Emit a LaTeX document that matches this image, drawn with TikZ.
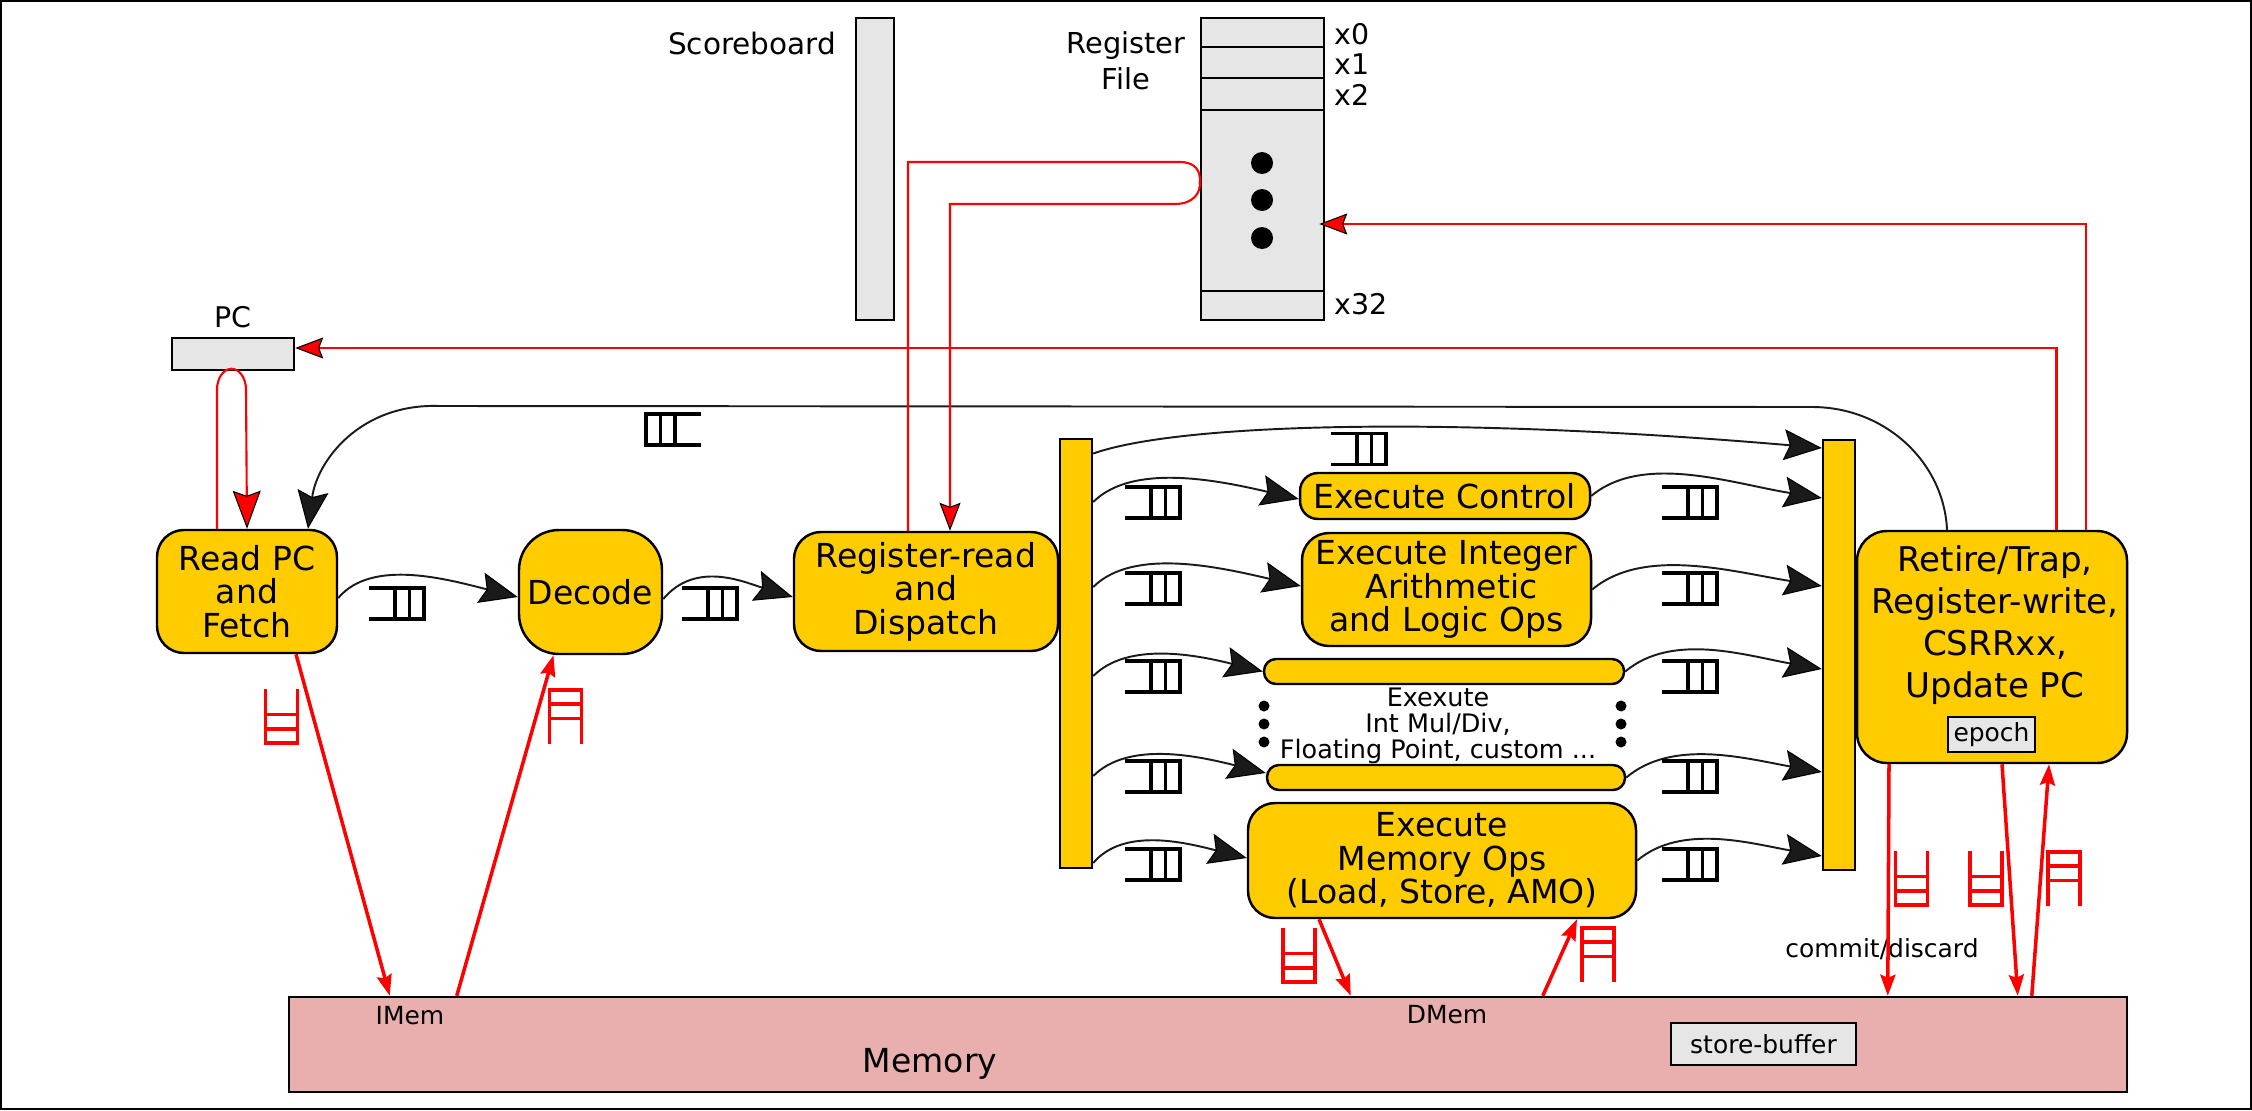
\documentclass[tikz,border=0pt]{standalone}
\usepackage{fontspec}
\setmainfont{DejaVu Sans}
\usepackage{tikz}
\usetikzlibrary{arrows.meta}
\usetikzlibrary{calc}
\definecolor{MyYellow}{HTML}{FFCC00}
\definecolor{MyGrey}{HTML}{E6E6E6}
\definecolor{MyPink}{HTML}{E9AFAF}
\definecolor{MyDarkGrey}{HTML}{1A1A1A}
\newcommand{\stagefont}{\fontsize{9.4}{9.55}\selectfont}
\newcommand{\retirefont}{\fontsize{9.7}{11.9}\selectfont}
\newcommand{\midfont}{\fontsize{8.1}{8.6}\selectfont}
\newcommand{\scorefont}{\fontsize{8.4}{8.6}\selectfont}
\newcommand{\regfont}{\fontsize{8.2}{10.2}\selectfont}
\newcommand{\tinyfont}{\fontsize{7.1}{7.25}\selectfont}
\newcommand{\execfont}{\fontsize{7.25}{7.4}\selectfont}

\begin{document}
\begin{tikzpicture}
  \tikzset{
    tipflow/.tip={Stealth[length=.38cm,width=.31cm,inset=.06cm,color=black,fill=MyDarkGrey,line width=.3pt,quick]},
    tipbig/.tip={Stealth[length=.38cm,width=.28cm,inset=.05cm,color=black,fill=red,line width=.3pt]},
    tipsmall/.tip={Stealth[length=.28cm,width=.21cm,inset=.04cm,color=black,fill=red,line width=.3pt]},
    tipmem/.tip={Stealth[length=.21cm,width=.15cm,inset=.03cm]},
    fifoh/.pic={
      \draw[line width=.9pt, draw=black] (-.55,.155) -- (0,.155) -- (0,-.155) -- (-.55,-.155);
      \draw[line width=.9pt, draw=black] (-.29,.155) -- (-.29,-.155) (-.145,.155) -- (-.145,-.155);
    },
    fifov/.pic={
      \draw[line width=.9pt, draw=red] (-.16,.54) -- (-.16,0) -- (.16,0) -- (.16,.54);
      \draw[line width=.9pt, draw=red] (-.16,.14) -- (.16,.14) (-.16,.285) -- (.16,.285);
    }
  }
  \tikzstyle{stage}=[draw=black, fill=MyYellow, line width=.7pt, align=center, inner sep=0pt, font=\stagefont]
  \tikzstyle{bar}=[draw=black, fill=MyYellow, line width=.7pt, inner sep=0pt]
  \tikzstyle{greybox}=[draw=black, fill=MyGrey, line width=.7pt, inner sep=0pt]
  \tikzstyle{dotmark}=[circle, fill=black, inner sep=0pt]
  \tikzstyle{flow}=[draw=MyDarkGrey, line width=.55pt, -{tipflow}]
  \tikzstyle{regline}=[draw=red, line width=.6pt]
  \tikzstyle{memline}=[draw=red, line width=1pt, -{tipmem}]

  \useasboundingbox (0, .01) rectangle (22.52, 11.11);
  \draw[line width=.4pt] (0.01, 0.02) rectangle (22.51, 11.1);

  % state
  \node[font=\scorefont] (scorelabel) at (7.52, 10.68) {Scoreboard};
  \node[greybox, minimum width=.38cm, minimum height=3.02cm] (scoreboard) at (8.75, 9.42) {};
  \node[font=\regfont, align=center] (reglabel) at (11.26, 10.5) {Register\\File};
  \node[greybox, minimum width=1.23cm, minimum height=3.02cm] (regfile) at (12.625, 9.42) {};
  \foreach \y in {10.64, 10.33, 10.01, 8.20}
    \draw[line width=.7pt] (regfile.west |- 0,\y) -- (regfile.east |- 0,\y);
  \node[dotmark, minimum size=.22cm] (regdota) at (12.62, 9.48) {};
  \node[dotmark, minimum size=.22cm] (regdotb) at (12.62, 9.11) {};
  \node[dotmark, minimum size=.22cm] (regdotc) at (12.62, 8.73) {};
  \node[font=\midfont, anchor=west, inner sep=0pt] (xzero) at (13.34, 10.77) {x0};
  \node[font=\midfont, anchor=west, inner sep=0pt] (xone) at (13.34, 10.47) {x1};
  \node[font=\midfont, anchor=west, inner sep=0pt] (xtwo) at (13.34, 10.16) {x2};
  \node[font=\midfont, anchor=west, inner sep=0pt] (xlast) at (13.34, 8.07) {x32};
  \node[font=\midfont] (pclabel) at (2.33, 7.94) {PC};
  \node[greybox, minimum width=1.22cm, minimum height=.32cm] (pc) at (2.33, 7.57) {};

  % pipeline stages
  \node[stage, minimum width=1.80cm, minimum height=1.23cm, rounded corners=.27cm] (readfetch) at (2.47, 5.195) {Read PC\\and\\Fetch};
  \node[stage, minimum width=1.43cm, minimum height=1.24cm, rounded corners=.4cm] (decode) at (5.905, 5.19) {Decode};
  \node[stage, minimum width=2.64cm, minimum height=1.19cm, rounded corners=.27cm] (regread) at (9.26, 5.195) {Register-read\\and\\Dispatch};
  \node[bar, minimum width=.32cm, minimum height=4.29cm] (dispatchbar) at (10.76, 4.575) {};
  \node[stage, minimum width=2.90cm, minimum height=.46cm, rounded corners=.18cm] (execctrl) at (14.45, 6.15) {Execute Control};
  \node[stage, minimum width=2.89cm, minimum height=1.13cm, rounded corners=.27cm] (execint) at (14.465, 5.215) {Execute Integer\\\hspace*{.1cm}Arithmetic\\and Logic Ops};
  \node[stage, minimum width=3.60cm, minimum height=.25cm, rounded corners=.12cm] (execfirst) at (14.44, 4.395) {};
  \node[stage, minimum width=3.58cm, minimum height=.25cm, rounded corners=.12cm] (execlast) at (14.46, 3.335) {};
  \node[font=\execfont, align=center] (execlabel) at (14.38, 3.85) {Exexute\\Int Mul/Div,\\Floating Point, custom ...};
  \node[stage, minimum width=3.88cm, minimum height=1.15cm, rounded corners=.27cm] (execmem) at (14.42, 2.505) {Execute\\Memory Ops\\(Load, Store, AMO)};
  \foreach \x in {12.64, 16.21} \foreach \y in {4.05, 3.87, 3.69}
    \node[dotmark, minimum size=.11cm] (dot\x\y) at (\x, \y) {};
  \node[bar, minimum width=.32cm, minimum height=4.30cm] (writebar) at (18.39, 4.56) {};
  \node[stage, minimum width=2.70cm, minimum height=2.32cm, rounded corners=.3cm] (retire) at (19.92, 4.64) {};
  \node[font=\retirefont, align=center] (retirelabel) at (19.95, 4.86) {Retire/Trap,\\Register-write,\\CSRRxx,\\Update PC};
  \node[greybox, font=\tinyfont, minimum width=.87cm, minimum height=.35cm] (epoch) at (19.915, 3.765) {epoch};

  % memory
  \node[draw=black, fill=MyPink, line width=.7pt, inner sep=0pt, minimum width=18.38cm, minimum height=.95cm] (memory) at (12.08, .665) {};
  \node[font=\stagefont] (memlabel) at (9.3, .47) {Memory};
  \node[font=\tinyfont] (imem) at (4.1, .95) {IMem};
  \node[font=\tinyfont] (dmem) at (14.47, .96) {DMem};
  \node[greybox, font=\tinyfont, minimum width=1.85cm, minimum height=.42cm] (storebuffer) at (17.635, .67) {store-buffer};
  \node[font=\tinyfont] (commit) at (18.82, 1.62) {commit/discard};

  % pipeline flow
  \draw[flow] ([yshift=-.065cm]readfetch.east) to[out=50, in=166, out looseness=.75] ([yshift=-.05cm]decode.west);
  \draw[flow] ([yshift=-.07cm]decode.east) to[out=50, in=163, out looseness=1] ([yshift=-.055cm]regread.west);
  \draw[flow] ([yshift=1.515cm]dispatchbar.east) to[out=45, in=167, out looseness=.7] ([yshift=-.03cm]execctrl.west);
  \draw[flow] ([yshift=.665cm]dispatchbar.east) to[out=45, in=167, out looseness=.7] ([yshift=.035cm]execint.west);
  \draw[flow] ([yshift=-.225cm]dispatchbar.east) to[out=45, in=166, out looseness=.75] (execfirst.west);
  \draw[flow] ([yshift=-1.225cm]dispatchbar.east) to[out=45, in=166, out looseness=.75] ([yshift=.045cm]execlast.west);
  \draw[flow] ([yshift=-2.095cm]dispatchbar.east) to[out=50, in=166, out looseness=.8] ([yshift=.025cm]execmem.west);
  \draw[flow] (execctrl.east) to[out=40, in=171, out looseness=.75] ([yshift=1.57cm]writebar.west);
  \draw[flow] (execint.east) to[out=40, in=171, out looseness=.75] ([yshift=.69cm]writebar.west);
  \draw[flow] (execfirst.east) to[out=40, in=170, out looseness=.8] ([yshift=-.14cm]writebar.west);
  \draw[flow] (execlast.east) to[out=40, in=170, out looseness=.8] ([yshift=-1.17cm]writebar.west);
  \draw[flow] (execmem.east) to[out=40, in=170, out looseness=.8] ([yshift=-2.01cm]writebar.west);
  \draw[flow] ([yshift=2cm]dispatchbar.east) .. controls (11.8, 6.88) and (14.5, 6.95) .. ([yshift=2.07cm]writebar.west);
  \draw[flow] ([xshift=-.45cm]retire.north) .. controls (19.44, 6.48) and (18.86, 7.04) .. (18.12, 7.04)
    -- (4.4, 7.05) .. controls (3.6, 7.08) and (3.17, 6.5) .. ([xshift=.61cm]readfetch.north);

  % register and PC paths
  \draw[regline, -{tipbig}] ([xshift=-.30cm]readfetch.north) -- ++(0, 1.39)
    arc[start angle=180, end angle=0, x radius=.145cm, y radius=.21cm] -- (readfetch.north);
  \draw[regline, -{tipsmall}] ([xshift=.645cm]retire.north) |- ([yshift=.06cm]pc.east);
  \draw[regline, -{tipsmall}] ([xshift=.94cm]retire.north) |- ([xshift=-.06cm, yshift=-.55cm]regfile.east);
  \draw[regline, -{tipsmall}] ([xshift=-.18cm]regread.north) |- (11.8, 9.49)
    .. controls (11.95, 9.49) and (12.01, 9.4) .. ([yshift=-.13cm]regfile.west)
    .. controls (12.01, 9.18) and (11.93, 9.07) .. (11.75, 9.07) -| ([xshift=.24cm]regread.north);

  % memory paths
  \draw[memline] ([xshift=.49cm]readfetch.south) -- ([xshift=1.02cm]memory.north west);
  \draw[memline] ([xshift=1.69cm]memory.north west) -- ([xshift=-.37cm]decode.south);
  \draw[memline] ([xshift=-1.23cm]execmem.south) -- ([xshift=10.63cm]memory.north west);
  \draw[memline] ([xshift=12.55cm]memory.north west) -- ([xshift=1.35cm]execmem.south);
  \draw[memline] ([xshift=-1.03cm]retire.south) -- ([xshift=16cm]memory.north west);
  \draw[memline] ([xshift=.10cm]retire.south) -- ([xshift=17.3cm]memory.north west);
  \draw[memline] ([xshift=17.44cm]memory.north west) -- ([xshift=.57cm]retire.south);

  % fifos
  \pic at (4.24, 5.075) {fifoh};
  \pic at (7.37, 5.075) {fifoh};
  \pic[xscale=-1] at (6.46, 6.815) {fifoh};
  \pic at (13.86, 6.62) {fifoh};
  \foreach \y in {6.085, 5.225, 4.345, 3.345, 2.465} {
    \pic at (11.80, \y) {fifoh};
    \pic at (17.17, \y) {fifoh};
  }
  \pic at (2.815, 3.68) {fifov};
  \pic[yscale=-1] at (5.655, 4.21) {fifov};
  \pic at (12.99, 1.29) {fifov};
  \pic[yscale=-1] at (15.98, 1.83) {fifov};
  \pic at (19.115, 2.06) {fifov};
  \pic at (19.86, 2.06) {fifov};
  \pic[yscale=-1] at (20.64, 2.59) {fifov};
\end{tikzpicture}
\end{document}
